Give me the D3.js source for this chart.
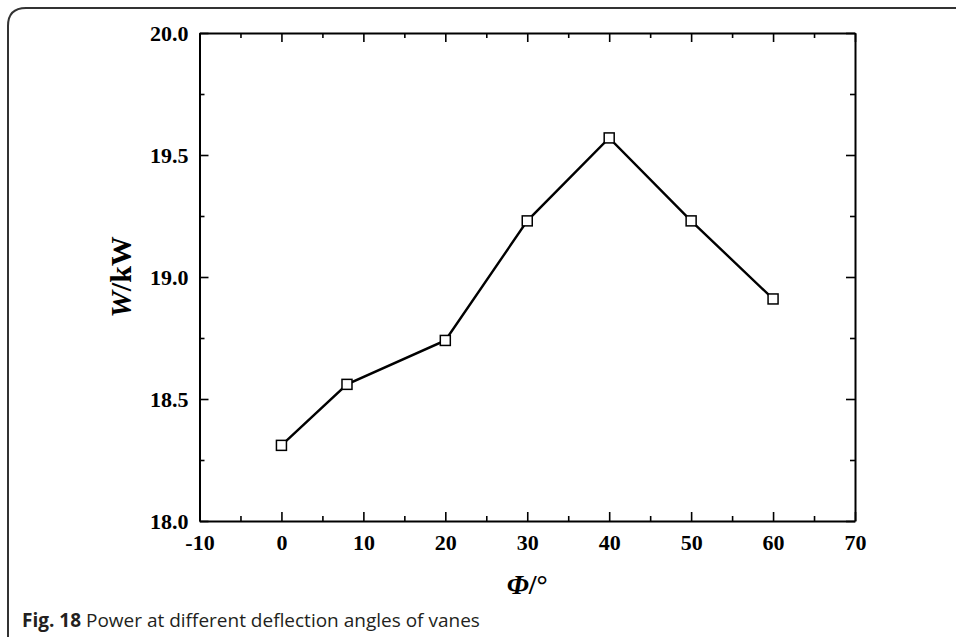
<!DOCTYPE html>
<html>
<head>
<meta charset="utf-8">
<script src="https://cdn.jsdelivr.net/npm/d3@7"></script>
<style>
  html, body { margin: 0; padding: 0; background: #fff; }
  svg { display: block; }
</style>
</head>
<body>
<svg id="chart" width="956" height="637"></svg>
<script>
// Data
const angles = [0, 8, 20, 30, 40, 50, 60];
const power = [18.31, 18.56, 18.74, 19.23, 19.57, 19.23, 18.91];
const xTicks = [-10, 0, 10, 20, 30, 40, 50, 60, 70];
const xMinorTicks = [-5, 5, 15, 25, 35, 45, 55, 65];
const yTicks = [18.0, 18.5, 19.0, 19.5, 20.0];
const yMinorTicks = [18.25, 18.75, 19.25, 19.75];

const svg = d3.select("#chart");
const W = 956, H = 637;
const L = 199.5, R = 855, T = 33, B = 521;

// Frame (top + left border with rounded corner)
svg.append("path")
  .attr("d", `M8,${H} L8,26 Q8,8 26,8 L${W},8`)
  .attr("fill", "none").attr("stroke", "#333").attr("stroke-width", 2);

const x = d3.scaleLinear().domain([-10, 70]).range([L, R]);
const y = d3.scaleLinear().domain([18, 20]).range([B, T]);

const tickFont = "'Liberation Serif', 'Times New Roman', serif";

function styleAxis(g) {
  g.selectAll("path.domain").attr("stroke", "#000").attr("stroke-width", 2);
  g.selectAll(".tick line").attr("stroke", "#000").attr("stroke-width", 1.6);
  g.selectAll("text").attr("font-family", tickFont).attr("font-weight", "bold")
    .attr("font-size", 22).attr("fill", "#000");
}

const fmtX = d => String(d);           // plain hyphen for negatives
const fmtY = d => d.toFixed(1);

// Bottom axis
svg.append("g").attr("transform", `translate(0,${B})`)
  .call(d3.axisBottom(x).tickValues(xTicks).tickSize(-9).tickPadding(13).tickFormat(fmtX).tickSizeOuter(0))
  .call(styleAxis);
svg.append("g").attr("transform", `translate(0,${B})`)
  .call(d3.axisBottom(x).tickValues(xMinorTicks).tickSize(-5).tickFormat("").tickSizeOuter(0))
  .call(styleAxis).select("path.domain").remove();

// Top axis
svg.append("g").attr("transform", `translate(0,${T})`)
  .call(d3.axisTop(x).tickValues(xTicks).tickSize(-9).tickFormat("").tickSizeOuter(0))
  .call(styleAxis);
svg.append("g").attr("transform", `translate(0,${T})`)
  .call(d3.axisTop(x).tickValues(xMinorTicks).tickSize(-5).tickFormat("").tickSizeOuter(0))
  .call(styleAxis).select("path.domain").remove();

// Left axis
svg.append("g").attr("transform", `translate(${L},0)`)
  .call(d3.axisLeft(y).tickValues(yTicks).tickSize(-9).tickPadding(11).tickFormat(fmtY).tickSizeOuter(0))
  .call(styleAxis);
svg.append("g").attr("transform", `translate(${L},0)`)
  .call(d3.axisLeft(y).tickValues(yMinorTicks).tickSize(-5).tickFormat("").tickSizeOuter(0))
  .call(styleAxis).select("path.domain").remove();

// Right axis
svg.append("g").attr("transform", `translate(${R},0)`)
  .call(d3.axisRight(y).tickValues(yTicks).tickSize(-9).tickFormat("").tickSizeOuter(0))
  .call(styleAxis);
svg.append("g").attr("transform", `translate(${R},0)`)
  .call(d3.axisRight(y).tickValues(yMinorTicks).tickSize(-5).tickFormat("").tickSizeOuter(0))
  .call(styleAxis).select("path.domain").remove();

// Line
const pts = angles.map((a, i) => [a, power[i]]);
svg.append("path")
  .datum(pts)
  .attr("fill", "none").attr("stroke", "#000").attr("stroke-width", 2.4)
  .attr("d", d3.line().x(d => x(d[0])).y(d => y(d[1])));

// Markers
const ms = 10;
svg.append("g").selectAll("rect").data(pts).join("rect")
  .attr("x", d => x(d[0]) - ms / 2).attr("y", d => y(d[1]) - ms / 2)
  .attr("width", ms).attr("height", ms)
  .attr("fill", "#fff").attr("stroke", "#000").attr("stroke-width", 1.5);

// Y axis title
const yt = svg.append("text")
  .attr("transform", `translate(131,${(T + B) / 2}) rotate(-90)`)
  .attr("text-anchor", "middle")
  .attr("font-family", tickFont).attr("font-weight", "bold").attr("font-size", 30).attr("fill", "#000");
yt.append("tspan").attr("font-style", "italic").text("W");
yt.append("tspan").text("/kW");

// X axis title
const xt = svg.append("text")
  .attr("x", (L + R) / 2).attr("y", 594)
  .attr("text-anchor", "middle")
  .attr("font-family", tickFont).attr("font-weight", "bold").attr("font-size", 28).attr("fill", "#000");
xt.append("tspan").attr("font-style", "italic").text("Φ");
xt.append("tspan").text("/°");

// Caption
const cap = svg.append("text")
  .attr("x", 22).attr("y", 627)
  .attr("font-family", "'Open Sans', 'Noto Sans', sans-serif").attr("font-size", 19).attr("fill", "#231f20");
cap.append("tspan").attr("font-weight", "bold").text("Fig. 18");
cap.append("tspan").text(" Power at different deflection angles of vanes");
</script>
</body>
</html>
